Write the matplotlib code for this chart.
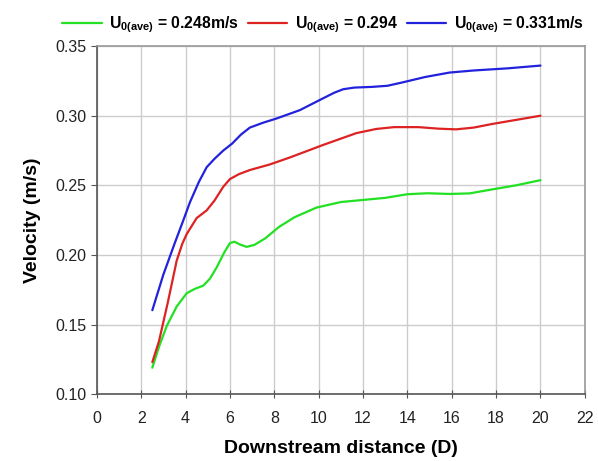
import matplotlib
matplotlib.use("Agg")
import matplotlib.pyplot as plt

plt.rcParams['font.family'] = ['Liberation Sans', 'DejaVu Sans']
plt.rcParams['mathtext.fontset'] = 'custom'
plt.rcParams['mathtext.rm'] = 'Liberation Sans'
plt.rcParams['mathtext.bf'] = 'Liberation Sans:bold'

# Green series (U0 = 0.248 m/s)
x_green = [2.5, 2.8, 3.15, 3.6, 4.05, 4.4, 4.8, 5.1, 5.4, 5.75, 6.0, 6.2, 6.45, 6.75, 7.1, 7.6, 8.2, 8.9, 9.9, 11.0, 12.0, 13.0, 14.0, 14.9, 15.9, 16.8, 17.8, 18.9, 20.0]
y_green = [0.119, 0.134, 0.149, 0.163, 0.1725, 0.1755, 0.178, 0.183, 0.191, 0.202, 0.2085, 0.2095, 0.2075, 0.2058, 0.2072, 0.212, 0.220, 0.227, 0.234, 0.238, 0.2395, 0.241, 0.2436, 0.2443, 0.2438, 0.2442, 0.247, 0.250, 0.2537]

# Red series (U0 = 0.294)
x_red = [2.5, 2.8, 3.2, 3.6, 3.85, 4.05, 4.5, 4.95, 5.3, 5.7, 6.0, 6.4, 6.9, 7.8, 8.7, 10.2, 11.7, 12.6, 13.4, 14.5, 15.4, 16.2, 17.0, 17.8, 18.9, 20.0]
y_red = [0.123, 0.138, 0.166, 0.196, 0.208, 0.215, 0.2265, 0.232, 0.239, 0.249, 0.2545, 0.258, 0.261, 0.265, 0.270, 0.279, 0.2875, 0.2905, 0.2918, 0.2918, 0.2907, 0.2902, 0.2915, 0.294, 0.297, 0.300]

# Blue series (U0 = 0.331 m/s)
x_blue = [2.5, 3.0, 3.5, 3.9, 4.2, 4.6, 4.95, 5.3, 5.7, 6.1, 6.5, 6.9, 7.5, 8.1, 9.15, 10.2, 10.7, 11.1, 11.6, 12.4, 13.1, 13.8, 14.8, 15.9, 17.0, 18.5, 20.0]
y_blue = [0.1603, 0.186, 0.208, 0.225, 0.238, 0.2525, 0.263, 0.269, 0.275, 0.280, 0.2865, 0.2915, 0.295, 0.298, 0.304, 0.3125, 0.3165, 0.319, 0.3202, 0.3207, 0.3215, 0.324, 0.3278, 0.331, 0.3325, 0.334, 0.336]

labels = [r'$\mathbf{U_{0(ave)}}$ = 0.248m/s', r'$\mathbf{U_{0(ave)}}$ = 0.294', r'$\mathbf{U_{0(ave)}}$ = 0.331m/s']
colors = ['#22e022', '#dd2222', '#2222dd']

x_ticks = list(range(0, 23, 2))
y_ticks = [0.10, 0.15, 0.20, 0.25, 0.30, 0.35]

fig = plt.figure(figsize=(5.98, 4.61), dpi=100)
ax = fig.add_axes([0.162, 0.145, 0.816, 0.755])

for xs, ys, c, lab in zip([x_green, x_red, x_blue], [y_green, y_red, y_blue], colors, labels):
    ax.plot(xs, ys, color=c, lw=1.6, label=lab, solid_joinstyle='round', solid_capstyle='round')

ax.set_xlim(0, 22)
ax.set_ylim(0.10, 0.35)
ax.set_xticks(x_ticks)
ax.set_yticks(y_ticks)
ax.set_yticklabels([f'{v:.2f}' for v in y_ticks])
ax.grid(True, color='#cccccc', lw=1.0)
ax.set_axisbelow(True)
for s in ax.spines.values():
    s.set_color('#999999')
    s.set_linewidth(1.2)
ax.spines['left'].set_color('#555555')
ax.spines['bottom'].set_color('#555555')
ax.tick_params(axis='both', labelsize=11.5, color='#555555', labelcolor='#222222')
ax.tick_params(axis='x', direction='inout', length=6, pad=9)
ax.tick_params(axis='y', direction='out', length=4)
ax.set_xlabel('Downstream distance (D)', fontsize=14, fontweight='bold', labelpad=10)
ax.set_ylabel('Velocity (m/s)', fontsize=14, fontweight='bold', labelpad=10)

fig.legend(loc='upper center', bbox_to_anchor=(0.54, 1.0), ncol=3, frameon=False,
           prop={'weight': 'bold', 'size': 11.3}, handlelength=2.5, columnspacing=0.55, handletextpad=0.5)

fig.savefig('out.png', dpi=100)
